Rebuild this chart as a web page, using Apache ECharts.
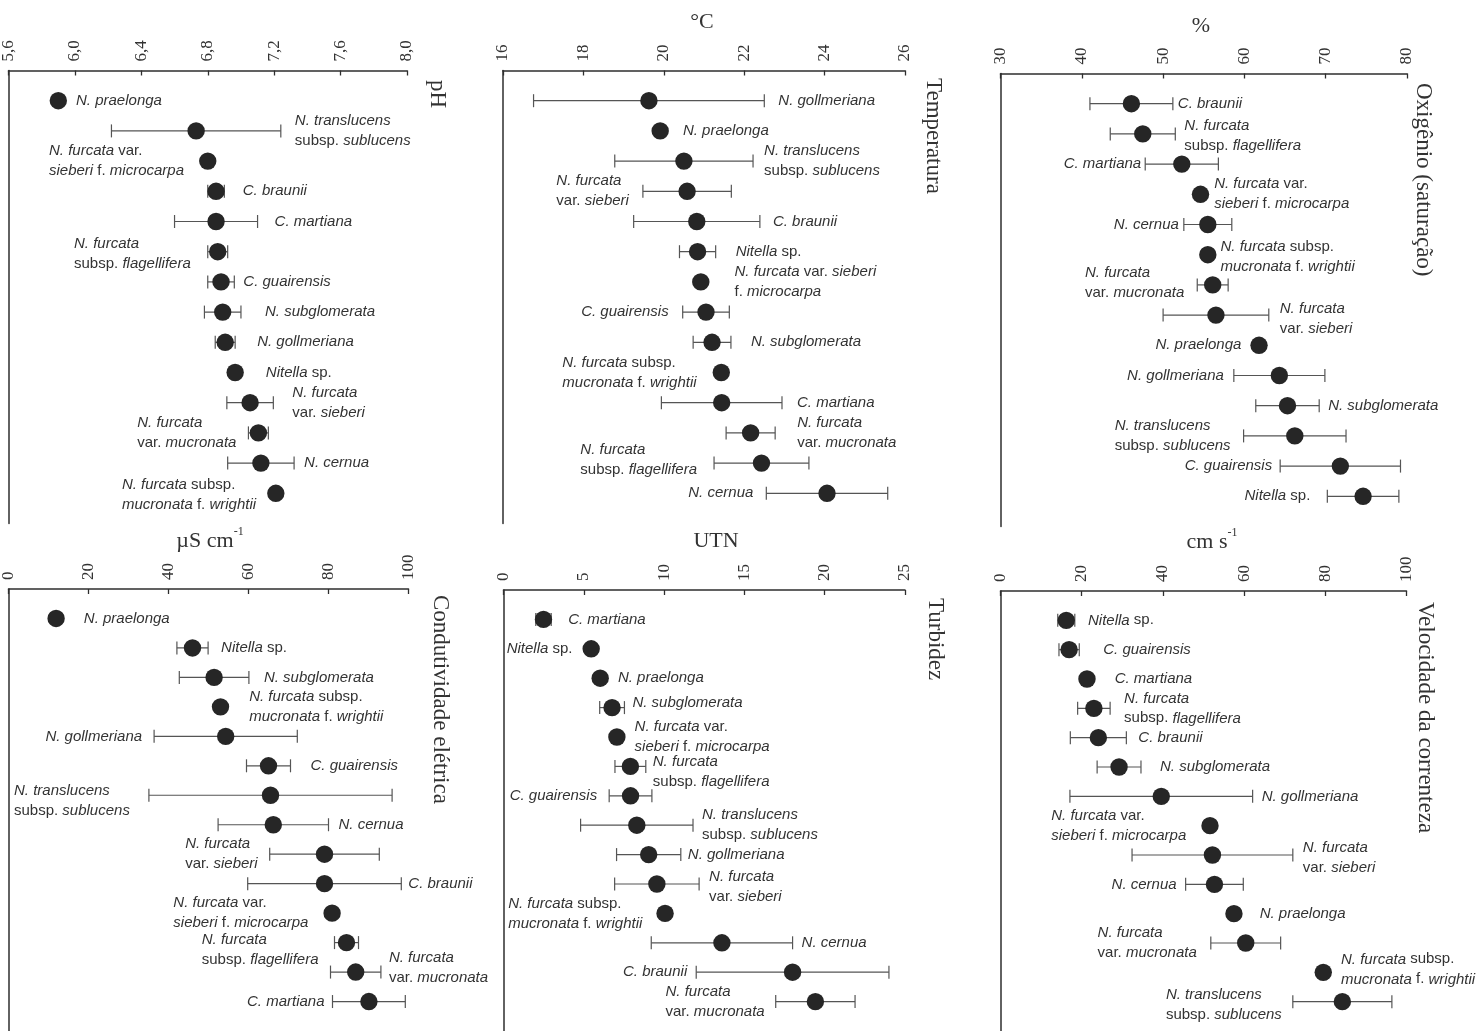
<!DOCTYPE html>
<html><head><meta charset="utf-8">
<script src="https://cdn.jsdelivr.net/npm/echarts@6/dist/echarts.min.js"></script>
<style>html,body{margin:0;padding:0;background:#fff}#c{width:1481px;height:1031px}</style>
</head><body><div id="c"></div>
<script>
// ---------- taxon display names ({i|italic} {n|upright}) ----------
const NAMES = {
  praelonga: '{i|N. praelonga}',
  translucens: '{i|N. translucens}\n{n|subsp.} {i|sublucens}',
  microcarpa: '{i|N. furcata} {n|var.}\n{i|sieberi} {n|f.} {i|microcarpa}',
  microcarpa2: '{i|N. furcata} {n|var.} {i|sieberi}\n{n|f.} {i|microcarpa}',
  braunii: '{i|C. braunii}',
  martiana: '{i|C. martiana}',
  flagellifera: '{i|N. furcata}\n{n|subsp.} {i|flagellifera}',
  guairensis: '{i|C. guairensis}',
  subglomerata: '{i|N. subglomerata}',
  gollmeriana: '{i|N. gollmeriana}',
  nitella: '{i|Nitella} {n|sp.}',
  sieberi: '{i|N. furcata}\n{n|var.} {i|sieberi}',
  mucronata: '{i|N. furcata}\n{n|var.} {i|mucronata}',
  cernua: '{i|N. cernua}',
  wrightii: '{i|N. furcata} {n|subsp.}\n{i|mucronata} {n|f.} {i|wrightii}'
};

// ---------- pH ----------
const phTicks = [5.6, 6.0, 6.4, 6.8, 7.2, 7.6, 8.0];
const phTaxa = ['praelonga','translucens','microcarpa','braunii','martiana','flagellifera','guairensis','subglomerata','gollmeriana','nitella','sieberi','mucronata','cernua','wrightii'];
const phMean = [5.90, 6.73, 6.80, 6.85, 6.85, 6.86, 6.88, 6.89, 6.905, 6.965, 7.055, 7.105, 7.12, 7.21];
const phSD   = [0, 0.51, 0, 0.05, 0.25, 0.06, 0.08, 0.11, 0.06, 0, 0.14, 0.06, 0.20, 0];

// ---------- Temperatura (°C) ----------
const tempTicks = [16, 18, 20, 22, 24, 26];
const tempTaxa = ['gollmeriana','praelonga','translucens','sieberi','braunii','nitella','microcarpa','guairensis','subglomerata','wrightii','martiana','mucronata','flagellifera','cernua'];
const tempMean = [19.63, 19.91, 20.5, 20.58, 20.82, 20.84, 20.92, 21.05, 21.2, 21.43, 21.44, 22.16, 22.43, 24.06];
const tempSD   = [2.87, 0, 1.72, 1.1, 1.57, 0.45, 0, 0.58, 0.47, 0, 1.5, 0.61, 1.18, 1.51];

// ---------- Oxigênio (%) ----------
const oxyTicks = [30, 40, 50, 60, 70, 80];
const oxyTaxa = ['braunii','flagellifera','martiana','microcarpa','cernua','wrightii','mucronata','sieberi','praelonga','gollmeriana','subglomerata','translucens','guairensis','nitella'];
const oxyMean = [46.1, 47.5, 52.3, 54.6, 55.5, 55.5, 56.1, 56.5, 61.8, 64.3, 65.3, 66.2, 71.8, 74.6];
const oxySD   = [5.1, 4.0, 4.5, 0, 2.95, 0, 1.9, 6.5, 0, 5.6, 3.9, 6.3, 7.4, 4.4];

// ---------- Condutividade elétrica (µS cm-1) ----------
const condTicks = [0, 20, 40, 60, 80, 100];
const condTaxa = ['praelonga','nitella','subglomerata','wrightii','gollmeriana','guairensis','translucens','cernua','sieberi','braunii','microcarpa','flagellifera','mucronata','martiana'];
const condMean = [11.9, 46.0, 51.4, 53.0, 54.3, 65.0, 65.5, 66.2, 79.0, 79.0, 80.9, 84.5, 86.8, 90.1];
const condSD   = [0, 3.9, 8.7, 0, 17.9, 5.5, 30.4, 13.8, 13.7, 19.2, 0, 3.0, 6.3, 9.1];

// ---------- Turbidez (UTN) ----------
const turbTicks = [0, 5, 10, 15, 20, 25];
const turbTaxa = ['martiana','nitella','praelonga','subglomerata','microcarpa','flagellifera','guairensis','translucens','gollmeriana','sieberi','wrightii','cernua','braunii','mucronata'];
const turbMean = [2.49, 5.46, 6.02, 6.76, 7.06, 7.9, 7.91, 8.3, 9.04, 9.55, 10.06, 13.6, 18.0, 19.42];
const turbSD   = [0.48, 0, 0, 0.77, 0, 0.96, 1.33, 3.5, 2.0, 2.63, 0, 4.4, 6.0, 2.47];

// ---------- Velocidade da correnteza (cm s-1) ----------
const velTicks = [0, 20, 40, 60, 80, 100];
const velTaxa = ['nitella','guairensis','martiana','flagellifera','braunii','subglomerata','gollmeriana','microcarpa','sieberi','cernua','praelonga','mucronata','wrightii','translucens'];
const velMean = [16.2, 16.9, 21.3, 23.0, 24.1, 29.2, 39.6, 51.6, 52.2, 52.7, 57.5, 60.4, 79.5, 84.2];
const velSD   = [2.1, 2.5, 0, 4.0, 6.9, 5.4, 22.5, 0, 19.8, 7.1, 0, 8.6, 0, 12.2];

// ---------- label placement (side, gap px, vertical shift px, optional name variant) ----------
const phPos   = [['r',9,0],['r',14,0],['l',15,0],['r',18,0],['r',17,0],['l',17,2],['r',9,0],['r',24,0],['r',22,0],['r',22,0],['r',19,0],['l',12,0],['r',10,0],['l',11,2]];
const tempPos = [['r',14,0],['r',14,0],['r',11,0],['l',14,0],['r',13,0],['r',20,0],['r',25,0,'microcarpa2'],['l',14,0],['r',20,0],['l',16,0],['r',15,0],['r',22,0],['l',17,-3],['l',13,0]];
const oxyPos  = [['r',5,0],['r',9,2],['l',4,0],['r',5,0],['l',5,0],['r',4,2],['l',13,-2],['r',11,4],['l',9,0],['l',10,0],['r',9,0],['l',13,0],['l',8,0],['l',17,0]];
const condPos = [['r',19,0],['r',13,0],['r',15,0],['r',20,0],['l',12,0],['r',20,0],['l',19,6],['r',10,0],['l',12,0],['r',7,0],['l',15,0],['l',16,7],['r',8,-4],['l',8,0]];
const turbPos = [['r',16,0],['l',10,0],['r',9,0],['r',8,-5],['r',9,0],['r',7,5],['l',12,0],['r',9,0],['r',7,0],['r',10,3],['l',14,0],['r',9,0],['l',9,0],['l',11,0]];
const velPos  = [['r',13,0],['r',24,0],['r',19,0],['r',14,0],['r',12,0],['r',19,0],['r',9,0],['l',15,0],['r',10,3],['l',9,0],['r',17,0],['l',14,0],['r',9,-3],['l',11,3]];

const fmtComma = v => v.toFixed(1).replace('.', ',');
const fmtInt = v => String(Math.round(v));

const PANELS = [
  {title:'pH', unit:'', ticks:phTicks, taxa:phTaxa, mean:phMean, sd:phSD, pos:phPos, fmt:fmtComma,
   grid:{left:7, top:70.5, width:400, height:453}, titleAt:[437,80], unitAt:null},
  {title:'Temperatura', unit:'°C', ticks:tempTicks, taxa:tempTaxa, mean:tempMean, sd:tempSD, pos:tempPos, fmt:fmtInt,
   grid:{left:503, top:70.5, width:402, height:453}, titleAt:[933,78], unitAt:[702,22]},
  {title:'Oxigênio (saturação)', unit:'%', ticks:oxyTicks, taxa:oxyTaxa, mean:oxyMean, sd:oxySD, pos:oxyPos, fmt:fmtInt,
   grid:{left:1000.5, top:73.5, width:406.5, height:453}, titleAt:[1423,83], unitAt:[1201,26]},
  {title:'Condutividade elétrica', unit:'{m|µS cm}{s|-1}', ticks:condTicks, taxa:condTaxa, mean:condMean, sd:condSD, pos:condPos, fmt:fmtInt,
   grid:{left:7.5, top:589, width:401, height:450}, titleAt:[440,595], unitAt:[210,539]},
  {title:'Turbidez', unit:'UTN', ticks:turbTicks, taxa:turbTaxa, mean:turbMean, sd:turbSD, pos:turbPos, fmt:fmtInt,
   grid:{left:503.5, top:590, width:401.5, height:453}, titleAt:[935,598], unitAt:[716,541]},
  {title:'Velocidade da correnteza', unit:'{m|cm s}{s|-1}', ticks:velTicks, taxa:velTaxa, mean:velMean, sd:velSD, pos:velPos, fmt:fmtInt,
   grid:{left:1000.5, top:591, width:406, height:453}, titleAt:[1425,602], unitAt:[1212,540]}
];

// ---------- text measuring for left-placed labels ----------
const LABEL_FONT = '"Liberation Sans", Arial, sans-serif';
const LFS = 15;
const _ctx = document.createElement('canvas').getContext('2d');
function lineW(line){
  let w = 0, m; const re = /\{(\w)\|([^}]*)\}|([^{]+)/g;
  while ((m = re.exec(line))) {
    const it = m[1] === 'i';
    _ctx.font = (it ? 'italic ' : '') + LFS + 'px ' + LABEL_FONT;
    w += _ctx.measureText(m[1] ? m[2] : m[3]).width;
  }
  return w;
}
function blockW(s){ return Math.max.apply(null, s.split('\n').map(lineW)); }

const RICH = {
  i: {fontStyle:'italic', fontFamily:LABEL_FONT, fontSize:LFS, fill:'#333', lineHeight:20},
  n: {fontStyle:'normal', fontFamily:LABEL_FONT, fontSize:LFS, fill:'#333', lineHeight:20}
};
const AX = '#2e2e2e';

const option = {animation:false, backgroundColor:'#fff', grid:[], xAxis:[], yAxis:[], series:[], graphic:[]};

PANELS.forEach((p, k) => {
  const n = p.taxa.length;
  option.grid.push(Object.assign({containLabel:false}, p.grid));
  option.xAxis.push({
    gridIndex:k, type:'value', position:'top',
    min:p.ticks[0], max:p.ticks[p.ticks.length-1], interval:p.ticks[1]-p.ticks[0],
    axisLine:{show:true, onZero:false, lineStyle:{color:AX, width:1.5}},
    axisTick:{show:true, inside:true, length:5, lineStyle:{color:AX, width:1.3}},
    axisLabel:{rotate:-90, margin:9, fontFamily:'"Liberation Serif", serif', fontSize:17, color:'#333',
               formatter:p.fmt, showMinLabel:true, showMaxLabel:true},
    splitLine:{show:false}
  });
  option.yAxis.push({
    gridIndex:k, type:'value', inverse:true, min:-1, max:n,
    axisLine:{show:true, onZero:false, lineStyle:{color:AX, width:1.5}},
    axisTick:{show:false}, axisLabel:{show:false}, splitLine:{show:false}
  });
  const pos = p.pos;
  option.series.push({
    type:'custom', xAxisIndex:k, yAxisIndex:k, clip:false, silent:true,
    data: p.taxa.map((t, j) => [p.mean[j], j, p.sd[j]]),
    renderItem: function(params, api){
      const m = api.value(0), j = api.value(1), sd = api.value(2);
      const c = api.coord([m, j]);
      const lo = api.coord([m - sd, j])[0], hi = api.coord([m + sd, j])[0];
      const R = 8.7, cap = 6.5;
      const ch = [];
      if (sd > 0) {
        const st = {stroke:'#555', lineWidth:1.2};
        ch.push({type:'line', shape:{x1:lo, y1:c[1], x2:hi, y2:c[1]}, style:st});
        ch.push({type:'line', shape:{x1:lo, y1:c[1]-cap, x2:lo, y2:c[1]+cap}, style:st});
        ch.push({type:'line', shape:{x1:hi, y1:c[1]-cap, x2:hi, y2:c[1]+cap}, style:st});
      }
      ch.push({type:'circle', shape:{cx:c[0], cy:c[1], r:R}, style:{fill:'#262626'}});
      const L = pos[j];
      const txt = NAMES[L[3] || p.taxa[j]];
      let tx;
      if (L[0] === 'r') tx = Math.max(hi, c[0] + R) + L[1];
      else tx = Math.min(lo, c[0] - R) - L[1] - blockW(txt);
      ch.push({type:'text', style:{text:txt, x:tx, y:c[1] + L[2], align:'left', verticalAlign:'middle',
        fontFamily:LABEL_FONT, fontSize:LFS, fill:'#333', lineHeight:20, rich:RICH}});
      return {type:'group', children:ch};
    }
  });
  option.graphic.push({type:'text', x:p.titleAt[0], y:p.titleAt[1], rotation:-Math.PI/2, silent:true,
    style:{text:p.title, fontFamily:'"Liberation Serif", serif', fontSize:23, fill:'#333', align:'left', verticalAlign:'middle'}});
  if (p.unitAt) {
    option.graphic.push({type:'text', x:p.unitAt[0], y:p.unitAt[1], silent:true,
      style:{text:p.unit, fontFamily:'"Liberation Serif", serif', fontSize:22, fill:'#333', align:'center', verticalAlign:'middle',
        rich:{m:{fontFamily:'"Liberation Serif", serif', fontSize:22, fill:'#333', lineHeight:26, verticalAlign:'bottom'},
              s:{fontFamily:'"Liberation Serif", serif', fontSize:12, fill:'#333', lineHeight:26, verticalAlign:'top'}}}});
  }
});

const chart = echarts.init(document.getElementById('c'), null, {renderer:'canvas'});
chart.setOption(option);
</script>
</body></html>
